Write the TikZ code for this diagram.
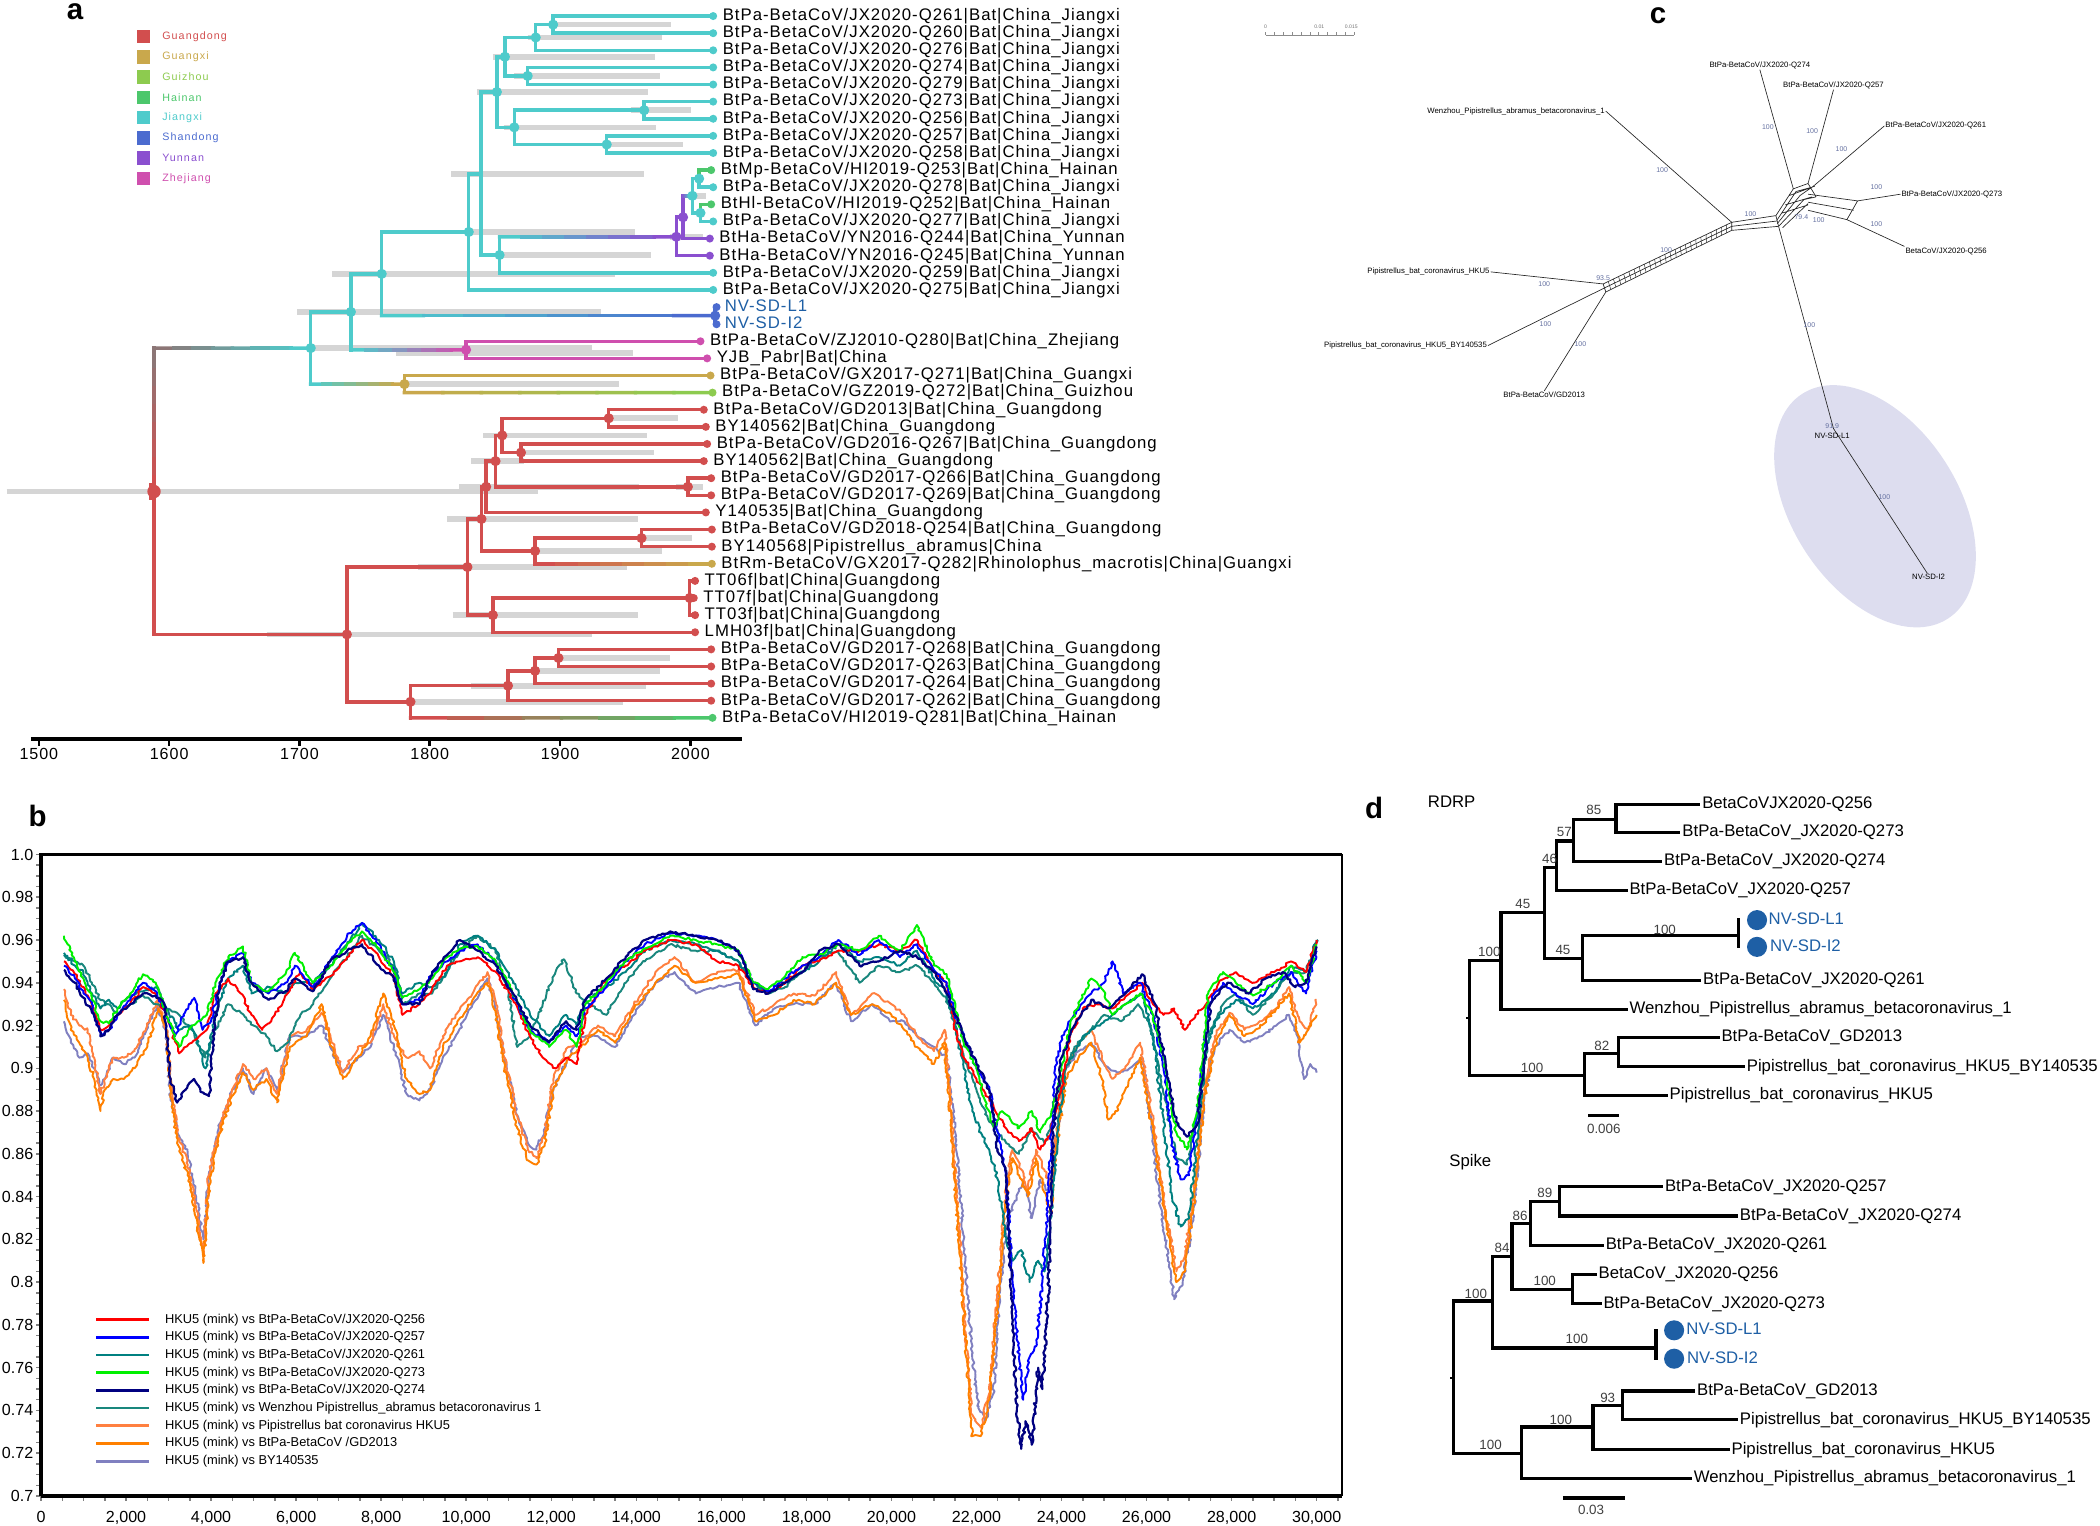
\documentclass[tikz,border=0pt]{standalone}
\usepackage{fontspec}
\setmainfont{Liberation Sans}
\newfontfamily\spaced[LetterSpace=6]{Liberation Sans}
\newfontfamily\legfont[LetterSpace=10]{Liberation Sans}
\usetikzlibrary{calc,decorations.pathmorphing}

\definecolor{gd}{RGB}{210,78,78}
\definecolor{gx}{RGB}{201,168,76}
\definecolor{gz}{RGB}{141,203,79}
\definecolor{hn}{RGB}{76,199,108}
\definecolor{jx}{RGB}{78,203,203}
\definecolor{sd}{RGB}{75,107,207}
\definecolor{yn}{RGB}{138,79,207}
\definecolor{zj}{RGB}{207,79,174}
\definecolor{rtg}{RGB}{140,118,118}
\definecolor{barg}{RGB}{213,213,213}
\definecolor{nvb}{RGB}{30,95,165}
\definecolor{ell}{RGB}{221,221,239}
\definecolor{bsc}{RGB}{100,112,160}
\definecolor{cR}{RGB}{255,0,0}
\definecolor{cB}{RGB}{0,0,255}
\definecolor{cT}{RGB}{0,128,128}
\definecolor{cG}{RGB}{0,240,0}
\definecolor{cN}{RGB}{0,0,128}
\definecolor{cW}{RGB}{25,135,125}
\definecolor{cO}{RGB}{255,128,64}
\definecolor{cP}{RGB}{255,128,0}
\definecolor{cL}{RGB}{128,128,192}

% branch piece that blends from one region colour into the next
\newcommand\gradbr[4]{%
  \foreach \k [evaluate=\k as \p using int(100-\k*100/7)] in {0,...,7}
    {\draw[br, color=#3!\p!#4] ($#1!\k/8!#2$) -- ($#1!\k/8+0.125!#2$);}}

\begin{document}
\begin{tikzpicture}[x=1pt, y=-1pt,
    br/.style = {line width=2.6pt, line cap=rect},
    hpd/.style = {line width=4.2pt, draw=barg},
    tiplab/.style = {anchor=west, inner sep=0pt, text height=9pt, text depth=2.5pt,
      font=\spaced\fontsize{12.5}{13}\selectfont},
    leglab/.style = {anchor=west, inner sep=0pt, font=\legfont\fontsize{8}{9}\selectfont},
    panel/.style = {inner sep=0pt, font=\fontsize{22}{22}\selectfont\bfseries},
    crv/.style = {line width=1.45pt, line join=round, decorate,
      decoration={random steps, segment length=2pt, amplitude=1.1pt}},
    tk/.style = {draw=gray, line width=1.1pt},
    net/.style = {line width=0.5pt, draw=black!85},
    clab/.style = {inner sep=0.6pt, font=\fontsize{5.8}{6}\selectfont},
    cbs/.style = {inner sep=0pt, text=bsc, font=\fontsize{5.2}{6}\selectfont},
    dbr/.style = {line width=2.4pt, line cap=rect},
    dlab/.style = {anchor=west, inner sep=0pt, text height=9pt, text depth=2.5pt,
      font=\fontsize{12.5}{13}\selectfont},
    bs/.style = {inner sep=0pt, text=black!75, font=\fontsize{10}{11}\selectfont}]
\useasboundingbox (0,0) rectangle (1568,1139);

% ---------------- a: dated tree ----------------
\node[panel] (pa) at (56,9) {a};
\foreach \c/\t [count=\i] in {gd/Guangdong, gx/Guangxi, gz/Guizhou, hn/Hainan,
    jx/Jiangxi, sd/Shandong, yn/Yunnan, zj/Zhejiang}
  {\fill[\c] (102,{22.4+(\i-1)*15.1}) rectangle ++(10,10);
   \node[leglab, text=\c] (lg\i) at (121,{27.4+(\i-1)*15.1}) {\t};}

% HPD bars
\foreach \a/\b/\y in {413/501/18.4, 394/494/28, 368/489/42.4, 384/493/56.7,
    356/484/68.7, 471/516/82.3, 376/490/95.1, 453/510/107.9, 337/481/129.9,
    350/474/173.2, 374/486/190.4, 248/459/204.5, 222/449/232.9, 232/442/259.9,
    296/473/263.5, 500/525/176.8, 514/527/146.2, 300/462/286.8, 454/506/312.3,
    361/483/325.1, 389/488/337.9, 352/391/344.3, 343/477/363.5, 505/525/363.5,
    5/402/367, 334/476/387.5, 479/517/401.8, 400/494/411.4, 312/468/423.4,
    338/476/459.3, 199/442/473.7, 417/500/491.3, 400/493/500.9, 352/482/512,
    306/465/524}
  {\draw[hpd] (\a,\y) -- (\b,\y);}

% tips
\foreach \n/\x/\r/\c/\t in {
    q261/532.5/1/jx/{BtPa-BetaCoV/JX2020-Q261|Bat|China\_Jiangxi},
    q260/532.5/2/jx/{BtPa-BetaCoV/JX2020-Q260|Bat|China\_Jiangxi},
    q276/532.5/3/jx/{BtPa-BetaCoV/JX2020-Q276|Bat|China\_Jiangxi},
    q274/532.5/4/jx/{BtPa-BetaCoV/JX2020-Q274|Bat|China\_Jiangxi},
    q279/532.5/5/jx/{BtPa-BetaCoV/JX2020-Q279|Bat|China\_Jiangxi},
    q273/532.5/6/jx/{BtPa-BetaCoV/JX2020-Q273|Bat|China\_Jiangxi},
    q256/532.5/7/jx/{BtPa-BetaCoV/JX2020-Q256|Bat|China\_Jiangxi},
    q257/532.5/8/jx/{BtPa-BetaCoV/JX2020-Q257|Bat|China\_Jiangxi},
    q258/532.5/9/jx/{BtPa-BetaCoV/JX2020-Q258|Bat|China\_Jiangxi},
    q253/531/10/hn/{BtMp-BetaCoV/HI2019-Q253|Bat|China\_Hainan},
    q278/532.5/11/jx/{BtPa-BetaCoV/JX2020-Q278|Bat|China\_Jiangxi},
    q252/531/12/hn/{BtHl-BetaCoV/HI2019-Q252|Bat|China\_Hainan},
    q277/532.5/13/jx/{BtPa-BetaCoV/JX2020-Q277|Bat|China\_Jiangxi},
    q244/530/14/yn/{BtHa-BetaCoV/YN2016-Q244|Bat|China\_Yunnan},
    q245/530/15/yn/{BtHa-BetaCoV/YN2016-Q245|Bat|China\_Yunnan},
    q259/532.5/16/jx/{BtPa-BetaCoV/JX2020-Q259|Bat|China\_Jiangxi},
    q275/532.5/17/jx/{BtPa-BetaCoV/JX2020-Q275|Bat|China\_Jiangxi},
    q280/523/20/zj/{BtPa-BetaCoV/ZJ2010-Q280|Bat|China\_Zhejiang},
    yjb/528/21/zj/{YJB\_Pabr|Bat|China},
    q271/530.5/22/gx/{BtPa-BetaCoV/GX2017-Q271|Bat|China\_Guangxi},
    q272/532/23/gz/{BtPa-BetaCoV/GZ2019-Q272|Bat|China\_Guizhou},
    gd13/525.5/24/gd/{BtPa-BetaCoV/GD2013|Bat|China\_Guangdong},
    by62a/527/25/gd/{BY140562|Bat|China\_Guangdong},
    q267/528/26/gd/{BtPa-BetaCoV/GD2016-Q267|Bat|China\_Guangdong},
    by62b/525.5/27/gd/{BY140562|Bat|China\_Guangdong},
    q266/531/28/gd/{BtPa-BetaCoV/GD2017-Q266|Bat|China\_Guangdong},
    q269/531/29/gd/{BtPa-BetaCoV/GD2017-Q269|Bat|China\_Guangdong},
    y535/527/30/gd/{Y140535|Bat|China\_Guangdong},
    q254/531.5/31/gd/{BtPa-BetaCoV/GD2018-Q254|Bat|China\_Guangdong},
    by568/531.5/32/gd/{BY140568|Pipistrellus\_abramus|China},
    q282/531.5/33/gx/{BtRm-BetaCoV/GX2017-Q282|Rhinolophus\_macrotis|China|Guangxi},
    tt06/519/34/gd/{TT06f|bat|China|Guangdong},
    tt07/518/35/gd/{TT07f|bat|China|Guangdong},
    tt03/519/36/gd/{TT03f|bat|China|Guangdong},
    lmh03/519/37/gd/{LMH03f|bat|China|Guangdong},
    q268/531/38/gd/{BtPa-BetaCoV/GD2017-Q268|Bat|China\_Guangdong},
    q263/531/39/gd/{BtPa-BetaCoV/GD2017-Q263|Bat|China\_Guangdong},
    q264/531/40/gd/{BtPa-BetaCoV/GD2017-Q264|Bat|China\_Guangdong},
    q262/531/41/gd/{BtPa-BetaCoV/GD2017-Q262|Bat|China\_Guangdong},
    q281/532/42/hn/{BtPa-BetaCoV/HI2019-Q281|Bat|China\_Hainan}}
  {\coordinate (\n) at (\x,{12+(\r-1)*12.78});
   \fill[\c] (\n) circle (3pt);
   \node[tiplab] (\n-t) at ($(\n)+(7,0)$) {\t};}
\coordinate (nvl1) at (535,229.3);
\coordinate (nvi2) at (535,242.1);
\node[tiplab, text=nvb] (nvl1-t) at ($(nvl1)+(6,0)$) {NV-SD-L1};
\node[tiplab, text=nvb] (nvi2-t) at ($(nvi2)+(6,0)$) {NV-SD-I2};

% internal nodes
\foreach \n/\x/\y in {rt/115/367, nA/232/259.9, nB/262/232.9, nC/285/204.5,
    nD/350/173.2, nE/359/129.9, nF/371/68.7, nN1/377/42.4, nN2/400/28,
    nN3/413/18.4, nN4/394/56.7, nN5/384/95.1, nN6/481/82.3, nN7/453/107.9,
    nG/373/190.4, nY1/505/176.8, nY2/510/162.2, nH1/517/146.2, nH2/522/133.4,
    nH3/523/159, nS/534/235.7, nZ/348/261.2, nGX/302/286.8, nL/259/473.7,
    nM/349/423.4, nM1/359.5/387.5, nM2/363/363.5, nM4/370/344.3, nM5/375/325.1,
    nM7/454.5/312.3, nM8/389/337.9, nM6/513.6/363.5, nM3/399.5/411.4,
    nM3a/479/401.8, nT/368/459.3, nTT/515/446.5, nP/306.5/524, nP1/379.3/512,
    nP2/399.5/500.9, nP3/417/491.3}
  {\coordinate (\n) at (\x,\y);}

% branches
\coordinate (rtop) at (rt |- nA);
\gradbr{(rt)}{(rtop)}{gd}{rtg}
\gradbr{(rtop)}{(nA)}{rtg}{jx}
\draw[br, gd] (rt) |- (nL);
\draw[br, jx] (nA) |- (nB) (nB) |- (nC) (nC) |- (nD) (nD) |- (nE) (nD) |- (q275)
  (nE) |- (nF) (nF) |- (nN1) (nF) |- (nN5) (nN1) |- (nN2) (nN1) |- (nN4)
  (nN2) |- (nN3) (nN2) |- (q276) (nN3) |- (q261) (nN3) |- (q260)
  (nN4) |- (q274) (nN4) |- (q279) (nN5) |- (nN6) (nN5) |- (nN7)
  (nN6) |- (q273) (nN6) |- (q256) (nN7) |- (q257) (nN7) |- (q258)
  (nE) |- (nG) (nG) |- (q259) (nH1) |- (nH2) (nH1) |- (nH3)
  (nH2) |- (q278) (nH3) |- (q277);
\draw[br, hn] (nH2) |- (q253) (nH3) |- (q252);
\coordinate (gxc) at (nA |- nGX);
\draw[br, jx] (nA) -- (gxc);
\gradbr{(gxc)}{(nGX)}{jx}{gx}
\coordinate (zjc) at (nB |- nZ);
\draw[br, jx] (nB) -- (zjc);
\gradbr{(zjc)}{(nZ)}{jx}{zj}
\coordinate (sdc) at (nC |- nS);
\draw[br, jx] (nC) -- (sdc);
\gradbr{(sdc)}{(nS)}{jx}{sd}
\coordinate (ync) at (nG |- nY1);
\draw[br, jx] (nG) -- (ync);
\gradbr{(ync)}{(nY1)}{jx}{yn}
\draw[br, yn] (nY1) |- (nY2) (nY1) |- (q245) (nY2) |- (q244);
\coordinate (h1c) at (nY2 |- nH1);
\draw[br, yn] (nY2) -- (h1c);
\gradbr{(h1c)}{(nH1)}{yn}{jx}
\draw[br, sd] (nS) |- (nvl1) (nS) |- (nvi2);
\draw[br, zj] (nZ) |- (q280) (nZ) |- (yjb);
\draw[br, gx] (nGX) |- (q271);
\coordinate (gzc) at (nGX |- q272);
\draw[br, gx] (nGX) -- (gzc);
\gradbr{(gzc)}{(q272)}{gx}{gz}
\draw[br, gd] (nL) |- (nM) (nL) |- (nP) (nM) |- (nM1) (nM) |- (nT)
  (nM1) |- (nM2) (nM1) |- (nM3) (nM2) |- (nM4) (nM2) |- (y535)
  (nM4) |- (nM5) (nM4) |- (nM6) (nM5) |- (nM7) (nM5) |- (nM8)
  (nM7) |- (gd13) (nM7) |- (by62a) (nM8) |- (q267) (nM8) |- (by62b)
  (nM6) |- (q266) (nM6) |- (q269) (nM3) |- (nM3a) (nM3a) |- (q254)
  (nM3a) |- (by568) (nT) |- (nTT) (nT) |- (lmh03) (nTT) |- (tt06)
  (nTT) |- (tt07) (nTT) |- (tt03) (nP) |- (nP1) (nP1) |- (nP2)
  (nP1) |- (q262) (nP2) |- (nP3) (nP2) |- (q264) (nP3) |- (q268)
  (nP3) |- (q263);
\coordinate (q282c) at (nM3 |- q282);
\draw[br, gd] (nM3) -- (q282c);
\gradbr{(q282c)}{(q282)}{gd}{gx}
\coordinate (q281c) at (nP |- q281);
\draw[br, gd] (nP) -- (q281c);
\gradbr{(q281c)}{(q281)}{gd}{hn}
\fill[sd] (nvl1) circle (3pt) (nvi2) circle (3pt);

% node markers
\foreach \n/\c in {nA/jx, nB/jx, nC/jx, nD/jx, nF/jx, nN1/jx, nN2/jx, nN3/jx,
    nN4/jx, nN5/jx, nN6/jx, nN7/jx, nG/jx, nY1/yn, nY2/yn, nH1/jx, nH2/jx,
    nH3/jx, nS/sd, nZ/zj, nGX/gx, nL/gd, nM/gd, nM1/gd, nM2/gd, nM4/gd,
    nM5/gd, nM7/gd, nM8/gd, nM6/gd, nM3/gd, nM3a/gd, nT/gd, nTT/gd, nP/gd,
    nP1/gd, nP2/gd, nP3/gd}
  {\fill[\c] (\n) circle (3.8pt);}
\fill[gd] ($(rt)+(-4,-6)$) rectangle ($(rt)+(1,6)$);
\fill[gd] (rt) circle (5pt);

% time axis
\draw[line width=2.8pt] (23,552) -- (554,552);
\foreach \yr [count=\i from 0] in {1500,1600,1700,1800,1900,2000}
  {\draw[line width=2pt] ({29+97.3*\i},552) -- ++(0,5);
   \node[inner sep=0pt, font=\spaced\fontsize{12}{12}\selectfont] (yr\i) at ({29+97.3*\i},563) {\yr};}

% ---------------- b: similarity plot ----------------
\node[panel] (pb) at (28,609) {b};
\foreach \i in {0,...,61}
  {\draw[tk] ({30.6+\i*15.875},1117) -- ++(0,4);}
\foreach \i in {0,...,60}
  {\draw[tk] (30.6,{638+\i*7.983}) -- ++(-4,0);}
\draw[line width=2.4pt] (30.6,1117) -- (30.6,638) -- (1002,638);
\draw[line width=1.3pt] (1002,638) -- (1002,1117);
\draw[line width=2.6pt] (30.6,1117) -- (1002,1117);
\foreach \v/\t in {1.0/1.0, 0.98/0.98, 0.96/0.96, 0.94/0.94, 0.92/0.92, 0.9/0.9,
    0.88/0.88, 0.86/0.86, 0.84/0.84, 0.82/0.82, 0.8/0.8, 0.78/0.78, 0.76/0.76,
    0.74/0.74, 0.72/0.72, 0.7/0.7}
  {\node[anchor=east, inner sep=0pt, font=\fontsize{12}{12}\selectfont] (yl\t) at (25,{638+(1-\v)*1596.7}) {\t};}
\foreach \t [count=\i from 0] in {0,{2,000},{4,000},{6,000},{8,000},{10,000},{12,000},
    {14,000},{16,000},{18,000},{20,000},{22,000},{24,000},{26,000},{28,000},{30,000}}
  {\node[inner sep=0pt, font=\fontsize{12}{12}\selectfont] (xl\i) at ({30.6+63.5*\i},1133) {\t};}

\pgfmathsetseed{11}
\begin{scope}[shift={(30.6,2234.7)}, x=31.75pt, y=1596.7pt]
  % lower group
  \draw[crv, cL] (0.54,0.922) -- (0.7,0.912) -- (0.9,0.905) -- (1.1,0.907) -- (1.25,0.9) -- (1.4,0.892) -- (1.5,0.895) -- (1.7,0.905) -- (1.95,0.902) -- (2.2,0.905) -- (2.5,0.92) -- (2.75,0.93) -- (2.95,0.915) -- (3.05,0.885) -- (3.2,0.872) -- (3.45,0.86) -- (3.65,0.84) -- (3.82,0.82) -- (3.95,0.85) -- (4.15,0.87) -- (4.4,0.885) -- (4.75,0.9) -- (5.0,0.888) -- (5.3,0.9) -- (5.55,0.89) -- (5.85,0.915) -- (6.25,0.915) -- (6.6,0.92) -- (6.8,0.91) -- (7.1,0.898) -- (7.45,0.905) -- (7.75,0.91) -- (8.05,0.925) -- (8.3,0.91) -- (8.6,0.888) -- (8.9,0.885) -- (9.15,0.89) -- (9.45,0.905) -- (9.75,0.915) -- (10.15,0.93) -- (10.5,0.942) -- (10.7,0.928) -- (10.9,0.905) -- (11.2,0.878) -- (11.45,0.865) -- (11.65,0.862) -- (11.85,0.872) -- (12.05,0.89) -- (12.4,0.905) -- (12.7,0.915) -- (13.1,0.915) -- (13.5,0.91) -- (13.95,0.925) -- (14.45,0.94) -- (14.9,0.945) -- (15.4,0.935) -- (15.9,0.938) -- (16.4,0.94) -- (16.8,0.92) -- (17.25,0.928) -- (17.7,0.93) -- (18.2,0.93) -- (18.7,0.94) -- (19.05,0.922) -- (19.55,0.93) -- (20.0,0.922) -- (20.3,0.922) -- (20.6,0.915) -- (21.0,0.91) -- (21.3,0.905) -- (21.5,0.87) -- (21.7,0.82) -- (21.9,0.765) -- (22.05,0.742) -- (22.2,0.735) -- (22.4,0.748) -- (22.55,0.795) -- (22.7,0.825) -- (22.9,0.838) -- (23.1,0.848) -- (23.3,0.83) -- (23.5,0.848) -- (23.7,0.842) -- (23.9,0.87) -- (24.1,0.9) -- (24.4,0.908) -- (24.7,0.912) -- (25.0,0.902) -- (25.3,0.898) -- (25.6,0.9) -- (25.9,0.905) -- (26.15,0.865) -- (26.4,0.825) -- (26.65,0.792) -- (26.85,0.8) -- (27.1,0.83) -- (27.35,0.885) -- (27.6,0.91) -- (27.95,0.918) -- (28.3,0.912) -- (28.7,0.915) -- (29.05,0.92) -- (29.35,0.925) -- (29.55,0.915) -- (29.7,0.895) -- (29.85,0.902) -- (30.0,0.898);
  \draw[crv, cO] (0.54,0.937) -- (0.7,0.925) -- (0.9,0.92) -- (1.1,0.918) -- (1.25,0.905) -- (1.4,0.888) -- (1.5,0.895) -- (1.7,0.905) -- (1.95,0.905) -- (2.2,0.908) -- (2.5,0.92) -- (2.75,0.932) -- (2.95,0.918) -- (3.05,0.895) -- (3.2,0.87) -- (3.45,0.855) -- (3.65,0.835) -- (3.82,0.812) -- (3.95,0.85) -- (4.15,0.868) -- (4.4,0.885) -- (4.75,0.902) -- (5.0,0.895) -- (5.3,0.9) -- (5.55,0.888) -- (5.85,0.915) -- (6.25,0.918) -- (6.6,0.926) -- (6.8,0.916) -- (7.1,0.898) -- (7.45,0.91) -- (7.75,0.912) -- (8.05,0.93) -- (8.3,0.915) -- (8.6,0.905) -- (8.9,0.908) -- (9.15,0.9) -- (9.45,0.915) -- (9.75,0.925) -- (10.15,0.935) -- (10.5,0.945) -- (10.7,0.93) -- (10.9,0.905) -- (11.2,0.878) -- (11.45,0.862) -- (11.65,0.858) -- (11.85,0.87) -- (12.05,0.895) -- (12.4,0.91) -- (12.7,0.912) -- (13.1,0.92) -- (13.5,0.915) -- (13.95,0.93) -- (14.45,0.945) -- (14.9,0.952) -- (15.4,0.94) -- (15.9,0.945) -- (16.4,0.946) -- (16.8,0.925) -- (17.25,0.93) -- (17.7,0.935) -- (18.2,0.934) -- (18.7,0.945) -- (19.05,0.925) -- (19.55,0.935) -- (20.0,0.93) -- (20.3,0.925) -- (20.6,0.915) -- (21.0,0.908) -- (21.25,0.918) -- (21.4,0.88) -- (21.6,0.82) -- (21.75,0.775) -- (21.9,0.738) -- (22.1,0.732) -- (22.3,0.748) -- (22.5,0.795) -- (22.7,0.845) -- (22.85,0.862) -- (23.0,0.856) -- (23.2,0.842) -- (23.4,0.862) -- (23.6,0.852) -- (23.75,0.845) -- (23.9,0.872) -- (24.1,0.9) -- (24.4,0.912) -- (24.7,0.918) -- (24.95,0.905) -- (25.2,0.895) -- (25.5,0.9) -- (25.85,0.912) -- (26.15,0.875) -- (26.45,0.832) -- (26.7,0.805) -- (26.9,0.812) -- (27.1,0.84) -- (27.35,0.89) -- (27.6,0.915) -- (27.95,0.926) -- (28.3,0.918) -- (28.7,0.922) -- (29.05,0.928) -- (29.35,0.938) -- (29.6,0.922) -- (29.8,0.918) -- (30.0,0.932);
  \draw[crv, cP] (0.54,0.932) -- (0.7,0.918) -- (0.9,0.912) -- (1.1,0.905) -- (1.25,0.895) -- (1.4,0.88) -- (1.5,0.89) -- (1.7,0.895) -- (1.95,0.895) -- (2.2,0.9) -- (2.5,0.91) -- (2.75,0.928) -- (2.95,0.918) -- (3.05,0.89) -- (3.2,0.865) -- (3.45,0.85) -- (3.65,0.83) -- (3.82,0.809) -- (3.95,0.845) -- (4.15,0.865) -- (4.4,0.882) -- (4.75,0.898) -- (5.0,0.89) -- (5.3,0.895) -- (5.55,0.884) -- (5.85,0.91) -- (6.25,0.915) -- (6.6,0.93) -- (6.8,0.912) -- (7.1,0.895) -- (7.45,0.905) -- (7.75,0.915) -- (8.05,0.935) -- (8.3,0.92) -- (8.6,0.895) -- (8.9,0.888) -- (9.15,0.89) -- (9.45,0.91) -- (9.75,0.92) -- (10.15,0.932) -- (10.5,0.94) -- (10.7,0.925) -- (10.9,0.9) -- (11.2,0.872) -- (11.45,0.857) -- (11.65,0.855) -- (11.85,0.865) -- (12.05,0.89) -- (12.4,0.905) -- (12.7,0.91) -- (13.1,0.918) -- (13.5,0.912) -- (13.95,0.928) -- (14.45,0.94) -- (14.9,0.948) -- (15.4,0.94) -- (15.9,0.942) -- (16.4,0.944) -- (16.8,0.922) -- (17.25,0.925) -- (17.7,0.932) -- (18.2,0.93) -- (18.7,0.94) -- (19.05,0.925) -- (19.55,0.93) -- (20.0,0.925) -- (20.3,0.918) -- (20.6,0.91) -- (21.0,0.902) -- (21.25,0.912) -- (21.4,0.875) -- (21.6,0.815) -- (21.75,0.77) -- (21.9,0.728) -- (22.1,0.728) -- (22.3,0.745) -- (22.5,0.79) -- (22.7,0.84) -- (22.85,0.858) -- (23.0,0.85) -- (23.2,0.84) -- (23.4,0.858) -- (23.6,0.842) -- (23.75,0.832) -- (23.9,0.865) -- (24.1,0.895) -- (24.4,0.905) -- (24.7,0.912) -- (24.95,0.895) -- (25.1,0.876) -- (25.3,0.88) -- (25.6,0.895) -- (25.85,0.905) -- (26.15,0.87) -- (26.45,0.83) -- (26.7,0.8) -- (26.9,0.805) -- (27.1,0.835) -- (27.35,0.885) -- (27.6,0.91) -- (27.95,0.925) -- (28.3,0.915) -- (28.7,0.92) -- (29.05,0.928) -- (29.35,0.935) -- (29.6,0.912) -- (29.8,0.918) -- (30.0,0.925);
  % upper group
  \draw[crv, cW] (0.54,0.953) -- (0.8,0.95) -- (1.0,0.948) -- (1.2,0.94) -- (1.4,0.932) -- (1.6,0.93) -- (1.8,0.925) -- (2.1,0.93) -- (2.4,0.934) -- (2.7,0.93) -- (2.95,0.928) -- (3.25,0.925) -- (3.55,0.918) -- (3.87,0.905) -- (4.1,0.918) -- (4.4,0.93) -- (4.7,0.926) -- (5.0,0.92) -- (5.3,0.915) -- (5.55,0.908) -- (5.8,0.912) -- (6.1,0.925) -- (6.4,0.93) -- (6.8,0.942) -- (7.2,0.952) -- (7.55,0.962) -- (7.95,0.955) -- (8.3,0.948) -- (8.5,0.93) -- (8.9,0.935) -- (9.2,0.935) -- (9.55,0.945) -- (9.85,0.955) -- (10.27,0.962) -- (10.7,0.955) -- (11.0,0.935) -- (11.2,0.91) -- (11.5,0.915) -- (11.8,0.93) -- (12.1,0.945) -- (12.3,0.951) -- (12.6,0.935) -- (12.9,0.93) -- (13.3,0.925) -- (13.75,0.94) -- (14.2,0.95) -- (14.8,0.958) -- (15.4,0.955) -- (15.9,0.955) -- (16.4,0.95) -- (16.75,0.94) -- (17.1,0.935) -- (17.5,0.938) -- (17.9,0.945) -- (18.3,0.952) -- (18.75,0.955) -- (19.25,0.94) -- (19.7,0.948) -- (20.2,0.945) -- (20.6,0.948) -- (21.0,0.94) -- (21.3,0.932) -- (21.5,0.92) -- (21.7,0.905) -- (22.0,0.89) -- (22.3,0.875) -- (22.5,0.87) -- (22.7,0.865) -- (23.0,0.86) -- (23.3,0.872) -- (23.6,0.865) -- (23.8,0.875) -- (24.0,0.895) -- (24.3,0.91) -- (24.7,0.918) -- (25.0,0.925) -- (25.4,0.922) -- (25.8,0.93) -- (26.1,0.92) -- (26.4,0.888) -- (26.7,0.858) -- (26.95,0.855) -- (27.2,0.878) -- (27.45,0.915) -- (27.8,0.93) -- (28.1,0.935) -- (28.5,0.925) -- (29.0,0.935) -- (29.4,0.945) -- (29.75,0.945) -- (30.0,0.96);
  \draw[crv, cT] (0.54,0.954) -- (0.8,0.948) -- (1.0,0.945) -- (1.2,0.935) -- (1.4,0.928) -- (1.6,0.932) -- (1.8,0.928) -- (2.1,0.934) -- (2.4,0.936) -- (2.7,0.938) -- (2.95,0.928) -- (3.25,0.918) -- (3.55,0.92) -- (3.87,0.9) -- (4.1,0.925) -- (4.4,0.942) -- (4.75,0.948) -- (4.95,0.935) -- (5.35,0.938) -- (5.75,0.935) -- (5.97,0.94) -- (6.4,0.94) -- (6.8,0.948) -- (7.2,0.958) -- (7.55,0.968) -- (7.95,0.96) -- (8.3,0.95) -- (8.5,0.935) -- (8.9,0.94) -- (9.2,0.938) -- (9.55,0.945) -- (9.85,0.958) -- (10.27,0.962) -- (10.7,0.955) -- (11.1,0.94) -- (11.5,0.925) -- (11.95,0.915) -- (12.35,0.925) -- (12.6,0.92) -- (12.8,0.932) -- (13.3,0.938) -- (13.75,0.945) -- (14.2,0.955) -- (14.8,0.96) -- (15.4,0.958) -- (15.9,0.955) -- (16.4,0.95) -- (16.75,0.94) -- (17.1,0.935) -- (17.5,0.94) -- (17.9,0.945) -- (18.3,0.95) -- (18.75,0.958) -- (19.25,0.95) -- (19.7,0.952) -- (20.2,0.948) -- (20.6,0.955) -- (21.0,0.942) -- (21.3,0.935) -- (21.5,0.92) -- (21.7,0.9) -- (21.9,0.88) -- (22.1,0.87) -- (22.3,0.862) -- (22.5,0.848) -- (22.7,0.82) -- (22.85,0.81) -- (23.05,0.815) -- (23.25,0.8) -- (23.45,0.81) -- (23.6,0.805) -- (23.75,0.83) -- (23.9,0.87) -- (24.1,0.9) -- (24.5,0.915) -- (25.0,0.922) -- (25.5,0.93) -- (25.9,0.935) -- (26.15,0.915) -- (26.4,0.875) -- (26.6,0.84) -- (26.8,0.826) -- (27.0,0.83) -- (27.2,0.87) -- (27.4,0.91) -- (27.7,0.925) -- (28.1,0.932) -- (28.5,0.928) -- (29.0,0.935) -- (29.4,0.948) -- (29.75,0.945) -- (30.0,0.96);
  \draw[crv, cR] (0.54,0.95) -- (0.8,0.944) -- (1.0,0.938) -- (1.2,0.93) -- (1.4,0.918) -- (1.6,0.92) -- (1.8,0.925) -- (2.1,0.93) -- (2.4,0.938) -- (2.7,0.935) -- (2.95,0.924) -- (3.25,0.907) -- (3.55,0.912) -- (3.9,0.918) -- (4.1,0.935) -- (4.4,0.942) -- (4.7,0.935) -- (4.95,0.925) -- (5.2,0.918) -- (5.5,0.925) -- (5.8,0.935) -- (6.1,0.945) -- (6.4,0.937) -- (6.8,0.943) -- (7.2,0.952) -- (7.55,0.96) -- (7.95,0.952) -- (8.3,0.943) -- (8.5,0.925) -- (8.9,0.93) -- (9.2,0.937) -- (9.55,0.948) -- (9.85,0.95) -- (10.27,0.952) -- (10.7,0.945) -- (11.1,0.932) -- (11.5,0.915) -- (11.8,0.905) -- (12.1,0.9) -- (12.4,0.905) -- (12.6,0.902) -- (12.8,0.925) -- (13.3,0.942) -- (13.75,0.948) -- (14.2,0.955) -- (14.8,0.96) -- (15.4,0.958) -- (15.9,0.95) -- (16.4,0.948) -- (16.75,0.938) -- (17.1,0.935) -- (17.5,0.94) -- (17.9,0.948) -- (18.3,0.95) -- (18.75,0.955) -- (19.25,0.955) -- (19.7,0.958) -- (20.2,0.955) -- (20.6,0.96) -- (21.0,0.945) -- (21.3,0.94) -- (21.5,0.918) -- (21.7,0.905) -- (22.0,0.895) -- (22.3,0.885) -- (22.5,0.878) -- (22.75,0.87) -- (23.0,0.866) -- (23.3,0.872) -- (23.5,0.862) -- (23.75,0.87) -- (24.0,0.89) -- (24.2,0.915) -- (24.5,0.928) -- (24.8,0.93) -- (25.2,0.928) -- (25.6,0.935) -- (25.9,0.94) -- (26.15,0.93) -- (26.4,0.925) -- (26.65,0.928) -- (26.9,0.918) -- (27.15,0.925) -- (27.4,0.93) -- (27.7,0.94) -- (28.1,0.945) -- (28.5,0.94) -- (29.0,0.945) -- (29.4,0.95) -- (29.75,0.945) -- (30.0,0.96);
  \draw[crv, cB] (0.54,0.948) -- (0.8,0.942) -- (1.0,0.935) -- (1.2,0.93) -- (1.4,0.915) -- (1.6,0.918) -- (1.8,0.925) -- (2.1,0.932) -- (2.4,0.94) -- (2.7,0.936) -- (2.95,0.925) -- (3.15,0.915) -- (3.35,0.925) -- (3.6,0.933) -- (3.8,0.918) -- (4.0,0.922) -- (4.2,0.94) -- (4.4,0.95) -- (4.75,0.954) -- (4.95,0.94) -- (5.35,0.935) -- (5.75,0.94) -- (5.97,0.948) -- (6.4,0.938) -- (6.8,0.95) -- (7.2,0.962) -- (7.55,0.968) -- (7.95,0.958) -- (8.3,0.945) -- (8.5,0.93) -- (8.9,0.932) -- (9.2,0.945) -- (9.55,0.95) -- (9.85,0.955) -- (10.27,0.958) -- (10.7,0.95) -- (11.1,0.934) -- (11.5,0.918) -- (11.95,0.912) -- (12.35,0.92) -- (12.6,0.915) -- (12.8,0.928) -- (13.3,0.938) -- (13.75,0.95) -- (14.2,0.958) -- (14.8,0.963) -- (15.4,0.962) -- (15.9,0.96) -- (16.4,0.955) -- (16.75,0.94) -- (17.1,0.936) -- (17.5,0.942) -- (17.9,0.948) -- (18.3,0.952) -- (18.75,0.96) -- (19.25,0.953) -- (19.7,0.96) -- (20.2,0.952) -- (20.6,0.958) -- (21.0,0.946) -- (21.3,0.94) -- (21.5,0.925) -- (21.7,0.915) -- (22.0,0.9) -- (22.3,0.89) -- (22.5,0.87) -- (22.7,0.85) -- (22.85,0.8) -- (23.0,0.765) -- (23.1,0.745) -- (23.25,0.765) -- (23.4,0.77) -- (23.55,0.8) -- (23.7,0.845) -- (23.85,0.9) -- (24.0,0.915) -- (24.3,0.925) -- (24.7,0.935) -- (25.0,0.94) -- (25.2,0.95) -- (25.45,0.935) -- (25.85,0.94) -- (26.15,0.925) -- (26.4,0.9) -- (26.6,0.865) -- (26.8,0.848) -- (27.0,0.85) -- (27.2,0.88) -- (27.45,0.93) -- (27.8,0.94) -- (28.1,0.935) -- (28.5,0.93) -- (29.0,0.94) -- (29.4,0.945) -- (29.75,0.935) -- (30.0,0.955);
  \draw[crv, cG] (0.54,0.962) -- (0.8,0.95) -- (1.0,0.942) -- (1.2,0.933) -- (1.4,0.922) -- (1.6,0.921) -- (1.8,0.928) -- (2.1,0.935) -- (2.4,0.944) -- (2.7,0.94) -- (2.95,0.926) -- (3.25,0.91) -- (3.55,0.92) -- (3.9,0.925) -- (4.1,0.94) -- (4.4,0.952) -- (4.75,0.957) -- (4.95,0.94) -- (5.35,0.936) -- (5.75,0.944) -- (5.97,0.954) -- (6.4,0.94) -- (6.8,0.948) -- (7.2,0.958) -- (7.55,0.964) -- (7.95,0.956) -- (8.3,0.945) -- (8.5,0.933) -- (8.9,0.937) -- (9.2,0.942) -- (9.55,0.952) -- (9.85,0.956) -- (10.27,0.957) -- (10.7,0.95) -- (11.1,0.935) -- (11.5,0.918) -- (11.95,0.91) -- (12.35,0.918) -- (12.6,0.91) -- (12.8,0.93) -- (13.3,0.94) -- (13.75,0.95) -- (14.2,0.956) -- (14.8,0.962) -- (15.4,0.96) -- (15.9,0.958) -- (16.4,0.955) -- (16.75,0.94) -- (17.1,0.937) -- (17.5,0.943) -- (17.9,0.952) -- (18.3,0.953) -- (18.75,0.958) -- (19.25,0.955) -- (19.7,0.962) -- (20.2,0.955) -- (20.6,0.967) -- (21.0,0.948) -- (21.3,0.944) -- (21.5,0.928) -- (21.7,0.912) -- (22.0,0.9) -- (22.2,0.885) -- (22.4,0.872) -- (22.6,0.88) -- (22.8,0.876) -- (23.0,0.872) -- (23.3,0.88) -- (23.5,0.87) -- (23.75,0.878) -- (24.0,0.9) -- (24.2,0.92) -- (24.45,0.932) -- (24.7,0.942) -- (25.0,0.936) -- (25.2,0.925) -- (25.5,0.93) -- (25.85,0.935) -- (26.15,0.925) -- (26.4,0.905) -- (26.7,0.87) -- (26.95,0.862) -- (27.2,0.88) -- (27.45,0.935) -- (27.8,0.945) -- (28.1,0.94) -- (28.5,0.934) -- (29.0,0.94) -- (29.4,0.948) -- (29.75,0.94) -- (30.0,0.958);
  \draw[crv, cN, line width=1.65pt] (0.54,0.946) -- (0.8,0.94) -- (1.0,0.933) -- (1.2,0.926) -- (1.4,0.915) -- (1.6,0.918) -- (1.8,0.925) -- (2.1,0.93) -- (2.4,0.935) -- (2.7,0.934) -- (2.9,0.93) -- (3.05,0.895) -- (3.2,0.884) -- (3.4,0.89) -- (3.6,0.895) -- (3.75,0.889) -- (3.95,0.887) -- (4.05,0.915) -- (4.2,0.938) -- (4.4,0.95) -- (4.75,0.952) -- (4.95,0.94) -- (5.35,0.932) -- (5.75,0.936) -- (5.97,0.942) -- (6.4,0.936) -- (6.8,0.95) -- (7.2,0.955) -- (7.55,0.958) -- (7.95,0.948) -- (8.3,0.942) -- (8.5,0.93) -- (8.9,0.93) -- (9.2,0.945) -- (9.55,0.953) -- (9.85,0.96) -- (10.27,0.955) -- (10.7,0.948) -- (11.1,0.935) -- (11.5,0.92) -- (11.95,0.912) -- (12.35,0.922) -- (12.6,0.918) -- (12.8,0.932) -- (13.3,0.942) -- (13.75,0.952) -- (14.2,0.96) -- (14.8,0.964) -- (15.4,0.962) -- (15.9,0.96) -- (16.4,0.955) -- (16.75,0.937) -- (17.1,0.935) -- (17.5,0.94) -- (17.9,0.945) -- (18.3,0.955) -- (18.75,0.958) -- (19.25,0.948) -- (19.7,0.95) -- (20.2,0.955) -- (20.6,0.952) -- (21.0,0.945) -- (21.3,0.935) -- (21.5,0.925) -- (21.7,0.915) -- (22.0,0.902) -- (22.3,0.89) -- (22.5,0.862) -- (22.7,0.852) -- (22.85,0.78) -- (22.95,0.74) -- (23.05,0.722) -- (23.15,0.735) -- (23.3,0.724) -- (23.45,0.76) -- (23.55,0.75) -- (23.7,0.8) -- (23.8,0.87) -- (24.0,0.905) -- (24.3,0.92) -- (24.7,0.932) -- (25.1,0.928) -- (25.5,0.935) -- (25.9,0.944) -- (26.2,0.93) -- (26.45,0.9) -- (26.7,0.875) -- (26.95,0.868) -- (27.2,0.874) -- (27.5,0.93) -- (27.9,0.94) -- (28.4,0.935) -- (28.8,0.942) -- (29.2,0.945) -- (29.5,0.938) -- (29.75,0.94) -- (30.0,0.957);
\end{scope}

% legend of b
\foreach \c/\t [count=\i] in {cR/{BtPa-BetaCoV/JX2020-Q256}, cB/{BtPa-BetaCoV/JX2020-Q257},
    cT/{BtPa-BetaCoV/JX2020-Q261}, cG/{BtPa-BetaCoV/JX2020-Q273},
    cN/{BtPa-BetaCoV/JX2020-Q274}, cW/{Wenzhou Pipistrellus\_abramus betacoronavirus 1},
    cO/{Pipistrellus bat coronavirus HKU5}, cP/{BtPa-BetaCoV /GD2013}, cL/{BY140535}}
  {\draw[\c, line width=2pt] (72,{985.4+(\i-1)*13.2}) -- (111,{985.4+(\i-1)*13.2});
   \node[anchor=west, inner sep=0pt, font=\fontsize{9.6}{10}\selectfont] (bl\i) at (123,{985.4+(\i-1)*13.2}) {HKU5 (mink) vs \t};}

% ---------------- c: network ----------------
\node[panel] (pc) at (1238,12) {c};
\fill[ell, rotate around={33:(1400,378)}] (1400,378) ellipse (62pt and 100pt);
\draw[black!45, line width=0.4pt] (945,26) -- (1011,26);
\foreach \i in {0,...,10} {\draw[black!45, line width=0.4pt] ({945+6.6*\i},26) -- ++(0,-2);}
\foreach \x/\t [count=\i] in {945/0, 985/0.01, 1009/0.015}
  {\node[inner sep=0pt, text=black!55, font=\fontsize{3.8}{4}\selectfont] (sc\i) at (\x,20) {\t};}

\foreach \n/\x/\y in {cw1/1293/166, cw3/1293/169, cw2/1293/172, ce1/1197/212,
    ce3/1198/215, ce2/1199/218, cq274/1314/52, cq257/1369/67, cq261/1407/94,
    cq273/1419/145, cq256/1422/184, cwz/1199/83, chk/1113/203, cby/1111/258,
    cgd/1153/292, cl1/1369/320, ci2/1439/428, ch274/1339/141, ch257/1350/137,
    ch261/1354/139, cr1/1387/150, cr2/1379/164, chs/1328/169}
  {\coordinate (\n) at (\x,\y);}
% splits box and hub
\draw[net] (cw1) -- (1326,161) (cw3) -- (1327,165) (cw2) -- (chs) (cw1) -- (cw2)
  (1326,161) -- (chs);
\draw[net] (1326,161) -- (ch274) (1327,164) -- (1341,143) (1327,167) -- (1344,146)
  (chs) -- (1347,149) (1331,170) -- (1350,152) (ch274) -- (ch257)
  (1341,143) -- (1352,140) (1344,146) -- (ch261) (1347,149) -- (1356,147)
  (1336,146) -- (1355,139) (1333,153) -- (1353,147) (1331,159) -- (1350,153)
  (ch257) -- (1356,147);
\draw[net] (1350,145) -- (cr1) (1350,151) -- (1384,157) (1350,157) -- (cr2) (cr1) -- (cr2);
\draw[net] (cw1) -- (ce1) (cw3) -- (ce3) (cw2) -- (ce2) (ce1) -- (ce2);
\foreach \t in {0.04,0.08,...,0.97}
  {\draw[net, line width=0.35pt] ($(cw1)!\t!(ce1)$) -- ($(cw2)!\t!(ce2)$);}
% leaves
\draw[net] (ch274) -- (cq274) (ch257) -- (cq257) (ch261) -- (cq261) (cr1) -- (cq273)
  (cr2) -- (cq256) (cw1) -- (cwz) (ce1) -- (chk) (ce3) -- (cby) (ce2) -- (cgd)
  (chs) -- (cl1) -- (ci2);
\node[clab, anchor=south] (cq274-t) at (cq274) {BtPa-BetaCoV/JX2020-Q274};
\node[clab, anchor=south] (cq257-t) at (cq257) {BtPa-BetaCoV/JX2020-Q257};
\node[clab, anchor=west] (cq261-t) at (cq261) {BtPa-BetaCoV/JX2020-Q261};
\node[clab, anchor=west] (cq273-t) at (cq273) {BtPa-BetaCoV/JX2020-Q273};
\node[clab, anchor=north west] (cq256-t) at (cq256) {BetaCoV/JX2020-Q256};
\node[clab, anchor=east] (cwz-t) at (cwz) {Wenzhou\_Pipistrellus\_abramus\_betacoronavirus\_1};
\node[clab, anchor=east] (chk-t) at (chk) {Pipistrellus\_bat\_coronavirus\_HKU5};
\node[clab, anchor=east] (cby-t) at (cby) {Pipistrellus\_bat\_coronavirus\_HKU5\_BY140535};
\node[clab, anchor=north] (cgd-t) at (cgd) {BtPa-BetaCoV/GD2013};
\node[clab] (cl1-t) at (1368,325.5) {NV-SD-L1};
\node[clab] (ci2-t) at (1440,431) {NV-SD-I2};
\foreach \x/\y/\t [count=\i] in {1241/127/100, 1320/95/100, 1353/98/100, 1375/111/100,
    1401/140/100, 1401/167/100, 1358/164/100, 1307/160/100, 1244/187/100,
    1153/212/100, 1154/242/100, 1180/257/100, 1351/243/100, 1407/371/100,
    1197/208/93.5, 1345/162/79.4, 1368/318/91.9}
  {\node[cbs] (cb\i) at (\x,\y) {\t};}

% ---------------- d: RDRP and Spike trees ----------------
\node[panel] (pd) at (1026,603) {d};
\node[anchor=west, inner sep=0pt, font=\fontsize{12.5}{13}\selectfont] (rdrp) at (1066,598.5) {RDRP};
\foreach \n/\x/\y in {r0/1097.5/760, ra/1120.8/717, rb/1183.2/803, r45/1153.4/681.4,
    r46/1162/647.7, r57/1174.7/628, r85/1206.6/611.9, r45b/1181.5/715.7,
    r82/1208.3/786.7, rnv/1298/698.3, rl1/1311.9/687, ri2/1311.9/707}
  {\coordinate (\n) at (\x,\y);}
\foreach \n/\x/\y/\t in {rq256/1268.3/600.4/{BetaCoVJX2020-Q256},
    rq273/1253.5/621.6/{BtPa-BetaCoV\_JX2020-Q273},
    rq274/1239.8/643/{BtPa-BetaCoV\_JX2020-Q274},
    rq257/1214/664.7/{BtPa-BetaCoV\_JX2020-Q257},
    rq261/1269/731.9/{BtPa-BetaCoV\_JX2020-Q261},
    rwz/1214/753.8/{Wenzhou\_Pipistrellus\_abramus\_betacoronavirus\_1},
    rgd/1282.7/774.7/{BtPa-BetaCoV\_GD2013},
    rby/1301.6/796.6/{Pipistrellus\_bat\_coronavirus\_HKU5\_BY140535},
    rhk/1244/817.8/{Pipistrellus\_bat\_coronavirus\_HKU5}}
  {\coordinate (\n) at (\x,\y);
   \node[dlab] (\n-t) at ($(\n)+(2.5,0)$) {\t};}
\draw[dbr] (r0) |- (ra) (r0) |- (rb) (ra) |- (r45) (ra) |- (rwz) (r45) |- (r46)
  (r45) |- (r45b) (r46) |- (r57) (r46) |- (rq257) (r57) |- (r85) (r57) |- (rq274)
  (r85) |- (rq256) (r85) |- (rq273) (r45b) |- (rnv) (r45b) |- (rq261)
  (rb) |- (r82) (rb) |- (rhk) (r82) |- (rgd) (r82) |- (rby);
\draw[dbr] (rnv |- rl1) -- (rnv |- ri2);
\draw[line width=1.5pt] (r0) -- ++(-3,0);
\fill[nvb] (rl1) circle (7.5pt) (ri2) circle (7.5pt);
\node[dlab, text=nvb] (rl1-t) at ($(rl1)+(8.5,0)$) {NV-SD-L1};
\node[dlab, text=nvb] (ri2-t) at ($(ri2)+(9.5,0)$) {NV-SD-I2};
\foreach \x/\y/\t [count=\i] in {1190/605/85, 1168/621.5/57, 1157/641.5/46,
    1137/675/45, 1112/711/100, 1167/709.5/45, 1243/694/100, 1196/781/82, 1144/797/100}
  {\node[bs] (rbs\i) at (\x,\y) {\t};}
\draw[line width=2.5pt] (1186,832.7) -- (1209,832.7);
\node[bs] (rsc) at (1197.5,843) {0.006};

\node[anchor=west, inner sep=0pt, font=\fontsize{12.5}{13}\selectfont] (spk) at (1082,867.6) {Spike};
\foreach \n/\x/\y in {s0/1085.5/1028.7, sa/1114.6/971.4, sb/1135.9/1085, s84/1129/938,
    snv/1236.4/1006.5, s86/1142.8/913.6, s100/1174/963, s89/1164.4/897.4,
    sd100/1189.4/1065.5, s93/1211.4/1049.3, sl1/1250/993.3, si2/1250/1014.5}
  {\coordinate (\n) at (\x,\y);}
\foreach \n/\x/\y/\t in {sq257/1240.5/886.2/{BtPa-BetaCoV\_JX2020-Q257},
    sq274/1296.4/907.9/{BtPa-BetaCoV\_JX2020-Q274},
    sq261/1196.3/929.8/{BtPa-BetaCoV\_JX2020-Q261},
    sq256/1191/951.5/{BetaCoV\_JX2020-Q256},
    sq273/1194.6/973.4/{BtPa-BetaCoV\_JX2020-Q273},
    sgd/1264.5/1038.6/{BtPa-BetaCoV\_GD2013},
    sby/1296.4/1060/{Pipistrellus\_bat\_coronavirus\_HKU5\_BY140535},
    shk/1290.2/1082.4/{Pipistrellus\_bat\_coronavirus\_HKU5},
    swz/1262/1104/{Wenzhou\_Pipistrellus\_abramus\_betacoronavirus\_1}}
  {\coordinate (\n) at (\x,\y);
   \node[dlab] (\n-t) at ($(\n)+(2.5,0)$) {\t};}
\draw[dbr] (s0) |- (sa) (s0) |- (sb) (sa) |- (s84) (sa) |- (snv) (s84) |- (s86)
  (s84) |- (s100) (s86) |- (s89) (s86) |- (sq261) (s89) |- (sq257) (s89) |- (sq274)
  (s100) |- (sq256) (s100) |- (sq273) (sb) |- (sd100) (sb) |- (swz)
  (sd100) |- (s93) (sd100) |- (shk) (s93) |- (sgd) (s93) |- (sby);
\draw[dbr] (snv |- sl1) -- (snv |- si2);
\draw[line width=1.5pt] (s0) -- ++(-3,0);
\fill[nvb] (sl1) circle (7.5pt) (si2) circle (7.5pt);
\node[dlab, text=nvb] (sl1-t) at ($(sl1)+(9,0)$) {NV-SD-L1};
\node[dlab, text=nvb] (si2-t) at ($(si2)+(9.5,0)$) {NV-SD-I2};
\foreach \x/\y/\t [count=\i] in {1153.4/891/89, 1135/908/86, 1121.5/932/84,
    1102/966/100, 1153.4/956.7/100, 1177.4/1000/100, 1113/1078.7/100,
    1165.4/1060/100, 1200.4/1043.8/93}
  {\node[bs] (sbs\i) at (\x,\y) {\t};}
\draw[line width=2.5pt] (1167,1118.5) -- (1213,1118.5);
\node[bs] (ssc) at (1188,1127) {0.03};
\end{tikzpicture}
\end{document}
